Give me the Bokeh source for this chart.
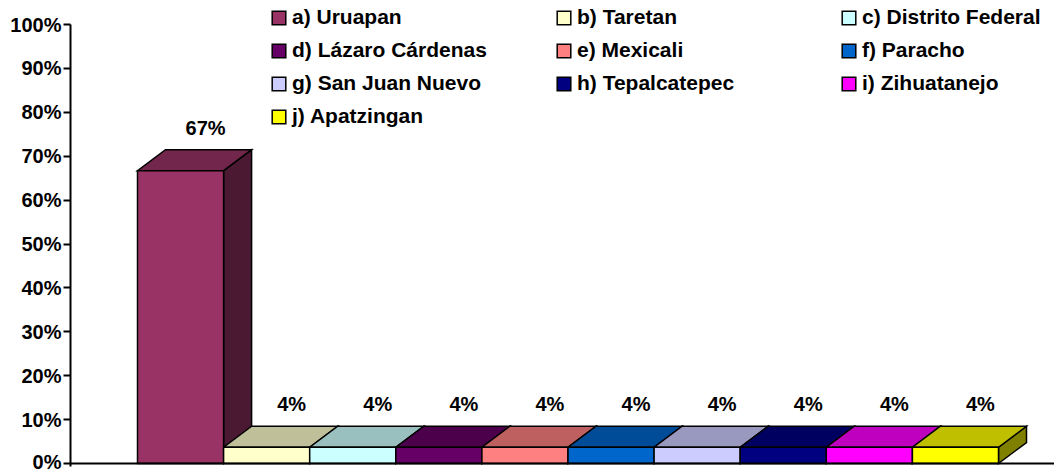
from bokeh.plotting import figure
from bokeh.models import (ColumnDataSource, Legend, LegendItem, NumeralTickFormatter,
                          FixedTicker, Span, Range1d)
from bokeh.embed import file_html
from bokeh.resources import INLINE
from bokeh.core.properties import value

# ---------------- data ----------------
categories = ["a) Uruapan", "b) Taretan", "c) Distrito Federal", "d) Lázaro Cárdenas",
              "e) Mexicali", "f) Paracho", "g) San Juan Nuevo", "h) Tepalcatepec",
              "i) Zihuatanejo", "j) Apatzingan"]
shares = [0.667, 0.037, 0.037, 0.037, 0.037, 0.037, 0.037, 0.037, 0.037, 0.037]
front_colors = ["#993366", "#FFFFCC", "#CCFFFF", "#660066", "#FF8080",
                "#0066CC", "#CCCCFF", "#000080", "#FF00FF", "#FFFF00"]
y_ticks = [0, 0.1, 0.2, 0.3, 0.4, 0.5, 0.6, 0.7, 0.8, 0.9, 1.0]

# ---------------- style / layout ----------------
FONT = "Liberation Sans"
W, H = 1054, 472
BORDER_L, BORDER_B = 70, 6
FRAME_W, FRAME_H = W - BORDER_L, H - BORDER_B
X_START = -67 / 86.1
X_END = X_START + FRAME_W / 86.1
Y_START, Y_END = -3 / 439, 1 + 24 / 439
DEPTH_X_PX, DEPTH_Y_PX = 28, 21
dx = DEPTH_X_PX * (X_END - X_START) / FRAME_W
dy = DEPTH_Y_PX * (Y_END - Y_START) / FRAME_H


def shade(hex_color, f):
    h = hex_color.lstrip("#")
    r, g, b = (int(h[i:i + 2], 16) for i in (0, 2, 4))
    return "#%02x%02x%02x" % (int(r * f), int(g * f), int(b * f))


top_colors = [shade(c, 0.75) for c in front_colors]
side_colors = [shade(c, 0.5) for c in front_colors]

n = len(categories)
lefts = [i for i in range(n)]
rights = [i + 1 for i in range(n)]
centers = [i + 0.5 for i in range(n)]

front_src = ColumnDataSource(dict(left=lefts, right=rights, top=shares,
                                  bottom=[0] * n, color=front_colors, name=categories))
top_src = ColumnDataSource(dict(
    xs=[[l, r, r + dx, l + dx] for l, r in zip(lefts, rights)],
    ys=[[v, v, v + dy, v + dy] for v in shares],
    color=top_colors))
side_src = ColumnDataSource(dict(
    xs=[[r, r + dx, r + dx, r] for r in rights],
    ys=[[0, dy, v + dy, v] for v in shares],
    color=side_colors))
label_src = ColumnDataSource(dict(x=centers, y=shares,
                                  text=["%d%%" % round(v * 100) for v in shares]))

p = figure(width=W, height=H, output_backend="svg", toolbar_location=None,
           x_range=Range1d(X_START, X_END), y_range=Range1d(Y_START, Y_END),
           x_axis_location=None, title=None,
           min_border_left=BORDER_L, min_border_right=0,
           min_border_top=0, min_border_bottom=BORDER_B)
p.outline_line_color = None
p.grid.visible = False
p.background_fill_color = "white"

line_kw = dict(line_color="black", line_width=1.5, line_join="miter")
p.patches("xs", "ys", source=side_src, fill_color="color", **line_kw)
p.patches("xs", "ys", source=top_src, fill_color="color", **line_kw)
front_r = p.quad(left="left", right="right", top="top", bottom="bottom",
                 source=front_src, fill_color="color", **line_kw)

p.add_layout(Span(location=0, dimension="width", line_color="black", line_width=2))

p.text(x="x", y="y", text="text", source=label_src, x_offset=25, y_offset=-43,
       text_align="center", text_baseline="middle", text_font=value(FONT),
       text_font_style="bold", text_font_size="20px", text_color="black")

ax = p.yaxis[0]
ax.ticker = FixedTicker(ticks=y_ticks)
ax.formatter = NumeralTickFormatter(format="0%")
ax.bounds = (Y_START, 1)
ax.axis_line_width = 2
ax.axis_line_color = "black"
ax.major_tick_line_width = 2
ax.major_tick_line_color = "black"
ax.major_tick_out = 7
ax.major_tick_in = 0
ax.minor_tick_out = 0
ax.minor_tick_in = 0
ax.major_label_standoff = 2
ax.major_label_text_font = FONT
ax.major_label_text_font_style = "bold"
ax.major_label_text_font_size = "20px"
ax.major_label_text_color = "black"

items = [LegendItem(label=categories[i], renderers=[front_r], index=i) for i in range(n)]
legend = Legend(items=items, orientation="horizontal", ncols=3, location=(200, 338),
                glyph_width=17, glyph_height=17, label_standoff=5, label_width=254,
                label_height=23, spacing=9, padding=0, margin=0,
                border_line_color=None, background_fill_alpha=0,
                label_text_font=FONT, label_text_font_style="bold",
                label_text_font_size="21px", label_text_color="black")
p.add_layout(legend)

open("out.html", "w").write(file_html(p, INLINE))
